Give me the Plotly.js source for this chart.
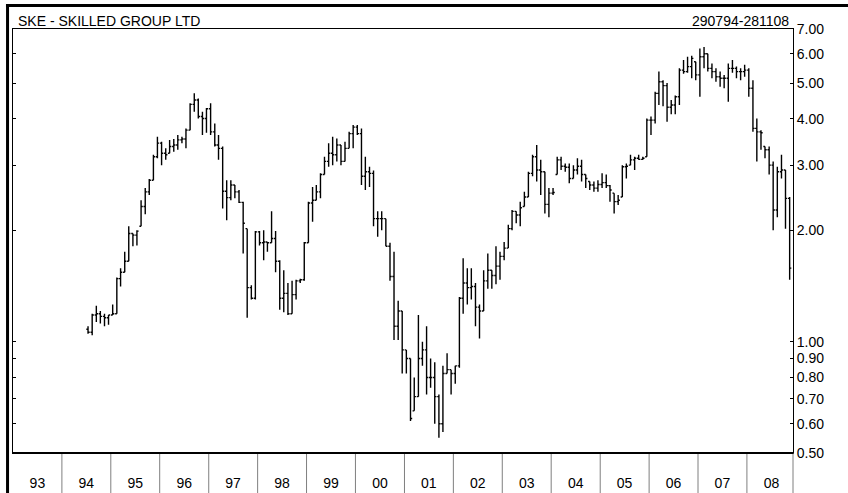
<!DOCTYPE html>
<html>
<head>
<meta charset="utf-8">
<script src="https://cdn.plot.ly/plotly-3.0.1.min.js"></script>
<style>
html,body{margin:0;padding:0;background:#fff;}
#chart{width:848px;height:493px;}
</style>
</head>
<body>
<div id="chart"></div>
<script>
// Monthly OHLC bars, July 1994 .. November 2008
const startYear = 1994;
const startMonth = 7;

const opens = [
  1.08,1.06,1.18,1.19,1.17,1.16,
  1.18,1.19,1.48,1.54,1.65,1.96,1.94,2.05,2.32,2.54,2.73,3.16,
  3.44,3.23,3.23,3.37,3.40,3.51,3.53,3.73,4.38,4.50,4.06,4.01,
  4.26,3.69,3.40,3.33,2.55,2.45,2.65,2.54,2.38,2.02,1.40,1.31,
  1.98,1.85,1.86,1.85,1.90,1.65,1.31,1.35,1.19,1.34,1.46,1.47,
  1.85,2.37,2.41,2.54,2.83,3.07,3.23,3.20,3.40,3.07,3.33,3.65,
  3.80,3.65,2.80,2.88,2.85,2.15,2.15,2.15,1.81,1.50,1.10,1.21,
  0.95,0.90,0.65,0.71,0.90,0.95,0.80,0.80,0.71,0.60,0.82,0.84,
  0.82,0.86,1.31,1.44,1.40,1.41,1.24,1.21,1.46,1.56,1.51,1.60,
  1.70,1.79,2.02,2.25,2.20,2.32,2.46,2.85,3.16,2.91,2.88,2.35,
  2.52,2.83,3.10,2.98,2.96,2.76,2.91,2.98,2.83,2.71,2.65,2.60,
  2.66,2.69,2.64,2.52,2.39,2.46,2.97,3.00,3.10,3.13,3.11,3.16,
  3.97,3.97,4.69,5.04,4.92,4.30,4.36,4.59,5.42,5.37,5.54,5.71,
  5.26,5.89,6.00,5.48,5.37,5.20,5.15,5.15,5.48,5.48,5.37,5.37,
  5.42,4.84,3.77,3.69,3.37,3.30,3.00,2.27,2.88,2.91,2.44
];
const highs = [
  1.10,1.19,1.25,1.21,1.19,1.18,
  1.26,1.49,1.58,1.75,2.05,1.96,2.00,2.41,2.60,2.75,3.20,3.58,
  3.47,3.33,3.51,3.53,3.62,3.58,3.77,4.41,4.69,4.54,4.18,4.28,
  4.41,3.89,3.62,3.37,2.73,2.73,2.65,2.57,2.39,2.02,1.42,1.99,
  1.99,2.00,1.86,2.25,1.99,1.66,1.56,1.44,1.46,1.47,1.48,1.86,
  2.39,2.62,2.65,2.85,3.16,3.44,3.58,3.54,3.40,3.47,3.69,3.85,
  3.85,3.77,3.16,2.97,2.90,2.25,2.25,2.15,1.85,1.75,1.29,1.21,
  0.95,0.90,0.80,1.18,1.00,1.10,0.90,0.88,0.72,0.86,0.93,0.84,
  0.86,1.32,1.68,1.58,1.58,1.44,1.26,1.56,1.73,1.56,1.81,1.75,
  1.86,2.07,2.27,2.25,2.39,2.54,2.88,3.20,3.40,3.10,2.88,2.60,
  2.60,3.16,3.16,3.03,3.03,3.00,3.13,3.10,2.83,2.71,2.71,2.73,
  2.85,2.83,2.65,2.52,2.49,3.00,3.03,3.20,3.16,3.20,3.16,4.01,
  4.06,4.74,5.37,5.09,5.00,4.50,4.63,5.48,5.77,5.89,5.93,5.71,
  6.20,6.26,6.00,5.65,5.48,5.37,5.26,5.65,5.77,5.54,5.48,5.60,
  5.48,5.09,4.01,3.73,3.37,3.37,3.07,2.97,3.20,2.91,2.46
];
const lows = [
  1.05,1.04,1.13,1.12,1.10,1.11,
  1.18,1.19,1.41,1.54,1.65,1.81,1.82,2.05,2.21,2.49,2.73,3.13,
  3.00,3.10,3.23,3.26,3.30,3.44,3.33,3.73,4.18,4.01,3.62,3.67,
  3.62,3.37,3.10,2.29,2.13,2.41,2.44,2.37,1.73,1.16,1.30,1.30,
  1.82,1.66,1.75,1.85,1.54,1.22,1.20,1.18,1.19,1.30,1.44,1.46,
  1.85,2.11,2.41,2.44,2.83,2.97,3.00,3.07,3.00,3.07,3.33,3.33,
  3.62,2.65,2.57,2.62,2.05,1.92,2.00,1.81,1.46,1.01,1.01,0.82,
  0.82,0.61,0.65,0.71,0.86,0.72,0.75,0.60,0.55,0.57,0.82,0.72,
  0.77,0.85,1.19,1.26,1.30,1.10,1.02,1.21,1.39,1.39,1.43,1.47,
  1.66,1.79,2.00,2.09,2.05,2.32,2.46,2.80,2.71,2.49,2.22,2.17,
  2.49,2.83,2.91,2.88,2.68,2.76,2.83,2.71,2.60,2.57,2.54,2.54,
  2.60,2.60,2.39,2.22,2.34,2.46,2.76,3.00,2.91,3.10,3.10,3.16,
  3.62,3.89,4.36,4.33,3.93,4.12,4.12,4.36,5.30,5.33,5.15,5.09,
  4.59,5.48,5.37,5.15,5.04,4.89,4.84,4.45,5.33,5.15,5.09,5.20,
  4.59,3.69,3.07,3.30,3.13,2.83,2.00,2.17,2.76,2.02,1.47
];
const closes = [
  1.06,1.18,1.19,1.17,1.16,1.18,
  1.19,1.48,1.54,1.65,1.96,1.94,1.99,2.32,2.54,2.73,3.16,3.44,
  3.23,3.20,3.37,3.40,3.51,3.53,3.73,4.38,4.50,4.06,4.01,4.26,
  3.69,3.40,3.33,2.55,2.45,2.65,2.54,2.38,2.09,1.40,1.31,1.98,
  1.85,1.86,1.85,1.90,1.65,1.31,1.35,1.19,1.34,1.46,1.47,1.85,
  2.37,2.41,2.54,2.83,3.07,3.23,3.20,3.40,3.07,3.33,3.65,3.80,
  3.65,2.80,2.88,2.85,2.15,2.15,2.15,1.81,1.50,1.10,1.21,0.95,
  0.90,0.62,0.71,0.90,0.95,0.80,0.80,0.71,0.60,0.82,0.84,0.82,
  0.86,1.31,1.44,1.40,1.41,1.24,1.21,1.46,1.56,1.51,1.60,1.70,
  1.79,2.02,2.25,2.20,2.30,2.46,2.85,3.16,2.91,2.88,2.35,2.52,
  2.53,3.10,2.98,2.96,2.76,2.91,2.98,2.83,2.76,2.65,2.60,2.66,
  2.69,2.64,2.57,2.39,2.41,2.97,2.98,3.10,3.13,3.11,3.13,3.97,
  3.97,4.69,5.04,4.92,4.30,4.36,4.59,5.42,5.37,5.54,5.83,5.26,
  5.89,6.00,5.48,5.37,5.20,5.15,5.15,5.48,5.48,5.37,5.37,5.42,
  4.84,3.77,3.69,3.67,3.30,3.00,2.27,2.88,2.91,2.44,1.58
];

const years = [1993,1994,1995,1996,1997,1998,1999,2000,2001,2002,2003,2004,2005,2006,2007,2008];
const yearLabels = ['93','94','95','96','97','98','99','00','01','02','03','04','05','06','07','08'];
const yTickVals = [0.5,0.6,0.7,0.8,0.9,1,2,3,4,5,6,7];
const yTickText = ['0.50','0.60','0.70','0.80','0.90','1.00','2.00','3.00','4.00','5.00','6.00','7.00'];
const chartTitle = 'SKE - SKILLED GROUP LTD';
const periodText = '290794-281108';
const xStart = '1993-01-01';
const xEnd = '2008-12-10';

// month dates (mid-month) for each bar
const dates = closes.map((_, i) => {
  const m = startMonth - 1 + i;
  const y = startYear + Math.floor(m / 12);
  const mm = (m % 12) + 1;
  return y + '-' + String(mm).padStart(2, '0') + '-15';
});

const FONT = 'Arial, "Liberation Sans", sans-serif';

const trace = {
  type: 'ohlc',
  x: dates,
  open: opens, high: highs, low: lows, close: closes,
  increasing: {line: {color: '#000', width: 1.4}},
  decreasing: {line: {color: '#000', width: 1.4}},
  tickwidth: 0.45,
  hoverinfo: 'skip',
  showlegend: false
};

const shapes = [];
// year separators below the plot
years.slice(1).forEach(y => {
  shapes.push({type: 'line', xref: 'x', yref: 'paper',
    x0: y + '-01-01', x1: y + '-01-01', y0: 0, y1: -0.1,
    line: {color: '#7f7f7f', width: 1}});
});
// right edge separator
shapes.push({type: 'line', xref: 'paper', yref: 'paper', x0: 1, x1: 1, y0: 0, y1: -0.1,
  line: {color: '#7f7f7f', width: 1}});
// thick bottom line
shapes.push({type: 'line', xref: 'paper', yref: 'paper', x0: 0, x1: 1, y0: 0, y1: 0,
  line: {color: '#000', width: 2}});
// outer frame: top and left thick lines
shapes.push({type: 'line', xref: 'paper', yref: 'paper', x0: -0.009, x1: 1.1, y0: 1.0554, y1: 1.0554,
  line: {color: '#000', width: 3}});
shapes.push({type: 'line', xref: 'paper', yref: 'paper', x0: -0.007, x1: -0.007, y0: 1.058, y1: -0.11,
  line: {color: '#000', width: 3}});

const layout = {
  width: 848, height: 493,
  margin: {l: 13, r: 55, t: 29, b: 40, pad: 0},
  paper_bgcolor: '#fff', plot_bgcolor: '#fff',
  font: {family: FONT, size: 14, color: '#000'},
  showlegend: false,
  xaxis: {
    type: 'date',
    range: [xStart, xEnd],
    rangeslider: {visible: false},
    showgrid: false, zeroline: false,
    showline: true, linecolor: '#000', linewidth: 1, mirror: true,
    tickmode: 'array',
    tickvals: years.map(y => y + '-07-02'),
    ticktext: yearLabels,
    ticks: 'outside', ticklen: 17, tickcolor: 'rgba(0,0,0,0)',
    tickfont: {family: FONT, size: 14, color: '#000'},
    fixedrange: true
  },
  yaxis: {
    type: 'log',
    range: [Math.log10(0.5), Math.log10(7)],
    side: 'right',
    showgrid: false, zeroline: false,
    showline: true, linecolor: '#000', linewidth: 1, mirror: 'ticks',
    tickmode: 'array', tickvals: yTickVals, ticktext: yTickText,
    ticks: 'inside', ticklen: 3, tickcolor: '#000',
    tickfont: {family: FONT, size: 14, color: '#000'},
    fixedrange: true
  },
  shapes: shapes,
  annotations: [
    {xref: 'paper', yref: 'paper', x: 0.004, y: 1.019, xanchor: 'left', yanchor: 'middle',
     text: chartTitle, showarrow: false, font: {family: FONT, size: 14, color: '#000'}},
    {xref: 'paper', yref: 'paper', x: 0.997, y: 1.019, xanchor: 'right', yanchor: 'middle',
     text: periodText, showarrow: false, font: {family: FONT, size: 14, color: '#000'}}
  ]
};

Plotly.newPlot('chart', [trace], layout, {staticPlot: true, displayModeBar: false});
</script>
</body>
</html>
